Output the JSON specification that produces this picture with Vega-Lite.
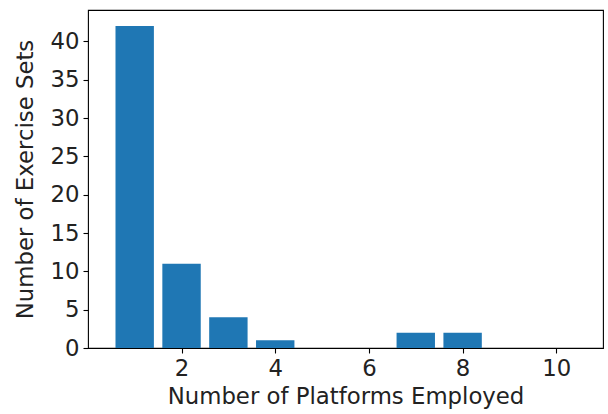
{
  "$schema": "https://vega.github.io/schema/vega-lite/v6.json",
  "width": 515,
  "height": 338,
  "autosize": "none",
  "padding": {"left": 88, "top": 10, "right": 5, "bottom": 66},
  "background": "white",
  "config": {
    "view": {"stroke": "black", "strokeWidth": 1.1},
    "axis": {
      "domain": false,
      "grid": false,
      "ticks": true,
      "tickColor": "black",
      "tickSize": 5,
      "tickWidth": 1.1,
      "labelFont": "DejaVu Sans",
      "labelFontSize": 22.8,
      "labelColor": "#222222",
      "labelPadding": 4,
      "titleFont": "DejaVu Sans",
      "titleFontSize": 22.8,
      "titleFontWeight": "normal",
      "titleColor": "#222222"
    }
  },
  "data": {
    "values": [
      {"platforms": 1, "sets": 42},
      {"platforms": 2, "sets": 11},
      {"platforms": 3, "sets": 4},
      {"platforms": 4, "sets": 1},
      {"platforms": 5, "sets": 0},
      {"platforms": 6, "sets": 0},
      {"platforms": 7, "sets": 2},
      {"platforms": 8, "sets": 2},
      {"platforms": 9, "sets": 0},
      {"platforms": 10, "sets": 0}
    ]
  },
  "mark": {"type": "bar", "size": 38.4, "color": "#1f77b4"},
  "encoding": {
    "x": {
      "field": "platforms",
      "type": "quantitative",
      "scale": {"domain": [0.11, 10.89], "nice": false, "zero": false},
      "axis": {"values": [2, 4, 6, 8, 10], "title": "Number of Platforms Employed", "titlePadding": 6}
    },
    "y": {
      "field": "sets",
      "type": "quantitative",
      "scale": {"domain": [0, 44.1], "nice": false},
      "axis": {"values": [0, 5, 10, 15, 20, 25, 30, 35, 40], "title": "Number of Exercise Sets", "titlePadding": 12}
    }
  }
}
